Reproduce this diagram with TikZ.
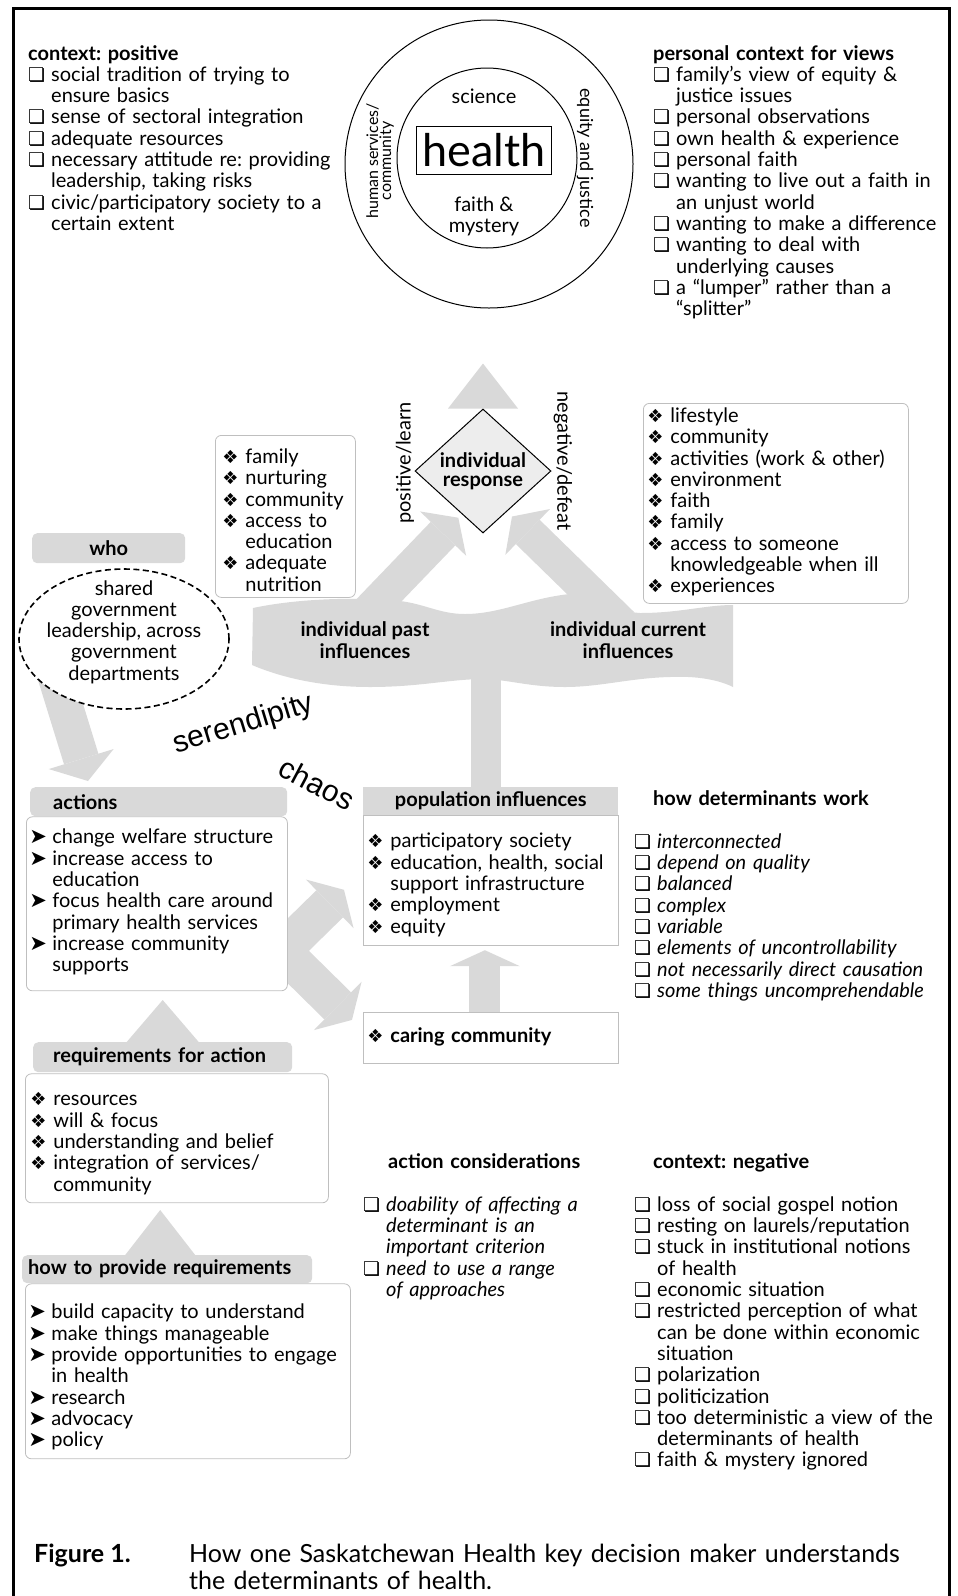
\documentclass[tikz,border=0pt]{standalone}
\usepackage{fontspec}
\setmainfont{Lato}
\newfontfamily\dingfont{DejaVu Sans}
\newfontfamily\helvfont{Liberation Sans}
\usetikzlibrary{positioning,shapes.geometric,arrows.meta,backgrounds,calc}
\frenchspacing
\newlength\bulw
\setlength\bulw{23pt}
\newcommand{\bodysize}{\fontsize{20}{21.3}\selectfont}
\newcommand{\sqbul}{{\normalfont\dingfont\fontsize{19}{19}\selectfont ❏}}
\newcommand{\diabul}{{\normalfont\dingfont\fontsize{18}{18}\selectfont ❖}}
\newcommand{\arrbul}{{\normalfont\dingfont\fontsize{21}{21}\selectfont ➤}}
\newcommand{\fitm}[1]{\hangindent=\bulw\hangafter=1\makebox[\bulw][l]{#1}}
\newcommand{\itm}[1]{\par\noindent\fitm{#1}}
\begin{document}
\begin{tikzpicture}[x=1pt, y=-1pt, >={Triangle[length=22pt, width=64pt, line width=0pt]},
	body/.style={font=\bodysize},
	list/.style={font=\bodysize, inner sep=0pt, anchor=base west, text width=#1},
	head/.style={font=\bfseries\bodysize, fill=black!15, rounded corners=5pt, inner ysep=0pt, anchor=north west},
	panel/.style={font=\bodysize, draw=black!25, line width=0.8pt, fill=white, rounded corners=6pt, inner ysep=0pt, anchor=north west},
	fat/.style={draw=black!15, line width=34pt},
	ring/.style={circle, draw, line width=1pt, inner sep=0pt}]
	\useasboundingbox (0,0) rectangle (958,1596);
	\draw[line width=3pt] (13,8) rectangle (949,1640);

	\node[ring, minimum size=288pt] (outer) at (489,164) {};
	\node[ring, minimum size=180pt] (inner) at (487,158) {};
	\node[draw, line width=1pt, minimum width=135pt, minimum height=48pt, inner sep=0pt, font=\fontsize{45}{45}\selectfont] (health) at (484,150) {health};
	\node[body, anchor=base] (science) at (484,103) {science};
	\node[body, align=center] (faith) at (484,216) {faith \&\\mystery};
	\node[font=\fontsize{16}{13}\selectfont, align=center, rotate=90] (humserv) at (380,161) {human services/\\community};
	\node[font=\fontsize{18}{18}\selectfont, rotate=-90] (equity) at (585,158) {equity and justice};

	\node[list=320pt] (ctxpos) at (28,60) {\textbf{context: positive}\itm{\sqbul}social tradition of trying to\newline ensure basics\itm{\sqbul}sense of sectoral integration\itm{\sqbul}adequate resources\itm{\sqbul}necessary attitude re: providing\newline leadership, taking risks\itm{\sqbul}civic/participatory society to a\newline certain extent\par};
	\node[list=290pt] (perscon) at (653,60) {\textbf{personal context for views}\itm{\sqbul}family’s view of equity \&\newline justice issues\itm{\sqbul}personal observations\itm{\sqbul}own health \& experience\itm{\sqbul}personal faith\itm{\sqbul}wanting to live out a faith in\newline an unjust world\itm{\sqbul}wanting to make a difference\itm{\sqbul}wanting to deal with\newline underlying causes\itm{\sqbul}a “lumper” rather than a\newline “splitter”\par};

	\node[diamond, draw, line width=1pt, fill=black!7, minimum width=136pt, minimum height=124pt, inner sep=0pt, align=center, font=\bfseries\fontsize{20}{19}\selectfont] (resp) at (483,471) {individual\\response};
	\node[body, rotate=90] (poslearn) at (405,463) {positive/learn};
	\node[body, rotate=-90] (negdefeat) at (563,461) {negative/defeat};

	\node[panel, inner xsep=7pt, text width=126pt, text height=28pt, text depth=134pt] (pastlist) at (215,435) {\fitm{\diabul}family\itm{\diabul}nurturing\itm{\diabul}community\itm{\diabul}access to\newline education\itm{\diabul}adequate\newline nutrition\par};
	\node[panel, inner xsep=4pt, text width=257pt, text height=19pt, text depth=181pt] (curlist) at (643,403) {\fitm{\diabul}lifestyle\itm{\diabul}community\itm{\diabul}activities (work \& other)\itm{\diabul}environment\itm{\diabul}faith\itm{\diabul}family\itm{\diabul}access to someone\newline knowledgeable when ill\itm{\diabul}experiences\par};

	\node[body, font=\bfseries\bodysize, align=center] (past) at (365,640) {individual past\\influences};
	\node[body, font=\bfseries\bodysize, align=center] (cur) at (628,640) {individual current\\influences};

	\node[head, minimum width=153pt, minimum height=30pt, inner xsep=0pt] (who) at (32,533) {who};
	\node[ellipse, draw, line width=1.6pt, dash pattern=on 6pt off 3.5pt, fill=white, minimum width=210pt, minimum height=140pt, inner sep=0pt] (gov) at (124,639) {};
	\node[body, align=center] (govtxt) at (124,632) {shared\\government\\leadership, across\\government\\departments};

	\node[font=\helvfont\fontsize{30}{30}\selectfont, rotate=17, anchor=base] (seren) at (246,732) {serendipity};
	\node[font=\helvfont\fontsize{30}{30}\selectfont, rotate=-28, anchor=base] (chaos) at (312,793) {chaos};

	\node[head, minimum height=29pt, inner xsep=23pt, text width=211pt] (acthead) at (30,787) {actions};
	\node[panel, below right=0pt and -4pt of acthead.south west, inner xsep=3pt, text width=255pt, text height=27pt, text depth=147pt] (actbox) {\fitm{\arrbul}change welfare structure\itm{\arrbul}increase access to\newline education\itm{\arrbul}focus health care around\newline primary health services\itm{\arrbul}increase community\newline supports\par};

	\node[head, sharp corners, minimum width=255pt, minimum height=28pt] (pophead) at (363,787) {population influences};
	\node[panel, sharp corners, below right=0pt and 0pt of pophead.south west, inner xsep=4pt, text width=247pt, text height=32pt, text depth=98pt] (popbox) {\fitm{\diabul}participatory society\itm{\diabul}education, health, social\newline support infrastructure\itm{\diabul}employment\itm{\diabul}equity\par};
	\node[panel, sharp corners, inner xsep=4pt, text width=247pt, text height=30pt, text depth=21pt] (carebox) at (363,1012) {\fitm{\diabul}\textbf{caring community}\par};

	\node[list=300pt] (howdet) at (634,805) {\hspace*{19pt}\textbf{how determinants work}\par\vspace{22pt}\itshape\itm{\sqbul}interconnected\itm{\sqbul}depend on quality\itm{\sqbul}balanced\itm{\sqbul}complex\itm{\sqbul}variable\itm{\sqbul}elements of uncontrollability\itm{\sqbul}not necessarily direct causation\itm{\sqbul}some things uncomprehendable\par};

	\node[head, minimum height=30pt, inner xsep=20pt, text width=219pt] (reqhead) at (33,1042) {requirements for action};
	\node[panel, below right=1pt and -8pt of reqhead.south west, inner xsep=5pt, text width=293pt, text height=32pt, text depth=97pt] (reqbox) {\fitm{\diabul}resources\itm{\diabul}will \& focus\itm{\diabul}understanding and belief\itm{\diabul}integration of services/\newline community\par};

	\node[head, minimum height=28pt, inner xsep=6pt, text width=278pt] (howhead) at (22,1255) {how to provide requirements};
	\node[panel, below right=0pt and 3pt of howhead.south west, inner xsep=3pt, text width=319pt, text height=35pt, text depth=140pt] (howbox) {\fitm{\arrbul}build capacity to understand\itm{\arrbul}make things manageable\itm{\arrbul}provide opportunities to engage\newline in health\itm{\arrbul}research\itm{\arrbul}advocacy\itm{\arrbul}policy\par};

	\node[list=250pt] (actcons) at (363,1168) {\hspace*{25pt}\textbf{action considerations}\par\vspace{22pt}\itshape\itm{\sqbul}doability of affecting a\newline determinant is an\newline important criterion\itm{\sqbul}need to use a range\newline of approaches\par};
	\node[list=300pt] (ctxneg) at (634,1168) {\hspace*{19pt}\textbf{context: negative}\par\vspace{22pt}\itm{\sqbul}loss of social gospel notion\itm{\sqbul}resting on laurels/reputation\itm{\sqbul}stuck in institutional notions\newline of health\itm{\sqbul}economic situation\itm{\sqbul}restricted perception of what\newline can be done within economic\newline situation\itm{\sqbul}polarization\itm{\sqbul}politicization\itm{\sqbul}too deterministic a view of the\newline determinants of health\itm{\sqbul}faith \& mystery ignored\par};

	\node[anchor=base west, inner sep=0pt, font=\bfseries\fontsize{25}{27}\selectfont] (figlbl) at (34,1562) {Figure 1.};
	\node[anchor=base west, inner sep=0pt, text width=740pt, font=\fontsize{25}{27}\selectfont] (figtxt) at (189,1562) {How one Saskatchewan Health key decision maker understands\newline the determinants of health.\par};

	\coordinate (stemfoot) at ($(pophead.north)+(-5,0)$);
	\begin{scope}[on background layer]
		\fill[black!15] (253,608) .. controls (300,598) and (360,597) .. (400,601) .. controls (425,604) and (440,614) .. (465,614) .. controls (500,614) and (530,598) .. (570,594) .. controls (600,592) and (615,612) .. (640,613) .. controls (680,613) and (705,605) .. (733,605) -- (733,687) .. controls (715,678) and (690,676) .. (670,677) .. controls (630,678) and (600,687) .. (565,687) .. controls (530,687) and (510,680) .. (485,679) .. controls (450,679) and (420,687) .. (370,687) .. controls (320,687) and (280,677) .. (252,665) -- cycle;
		\draw[fat, line width=30pt] (stemfoot) -- (stemfoot |- past.center);
		\draw[fat, ->, shorten >=5pt] ($(past.center)+(-5,-20)$) -- ($(resp.west)!0.69!(resp.south)$);
		\draw[fat, ->, shorten >=7pt] ($(cur.center)+(-6,-16)$) -- ($(resp.south)!0.35!(resp.east)$);
		\fill[black!15] ([xshift=-35pt]resp.north) -- ([xshift=35pt]resp.north) -- ([yshift=45pt]resp.north) -- cycle;
		\draw[fat, ->, line width=36pt, >={Triangle[length=23pt, width=68pt, line width=0pt]}] ($(gov.center)+(-74,19)$) -- ($(acthead.north west)+(58,-6)$);
		\draw[fat, <->, line width=38pt, line join=miter, >={Triangle[length=20pt, width=68pt, line width=0pt]}] ($(popbox.west)+(-19,9)$) -- ($(actbox.east)+(-6,47)$) -- ($(carebox.west)+(-11,-18)$);
		\draw[fat, ->, line width=31pt, >={Triangle[length=16pt, width=70pt, line width=0pt]}] ([xshift=-6pt]carebox.north) -- ([xshift=-6pt, yshift=-4pt]popbox.south);
		\fill[black!15] ([xshift=-36pt]reqhead.north) -- ([xshift=36pt]reqhead.north) -- ([yshift=42pt]reqhead.north) -- cycle;
		\fill[black!15] ([xshift=-42pt]howhead.north) -- ([xshift=28pt]howhead.north) -- ([xshift=-7pt, yshift=45pt]howhead.north) -- cycle;
	\end{scope}
\end{tikzpicture}
\end{document}
